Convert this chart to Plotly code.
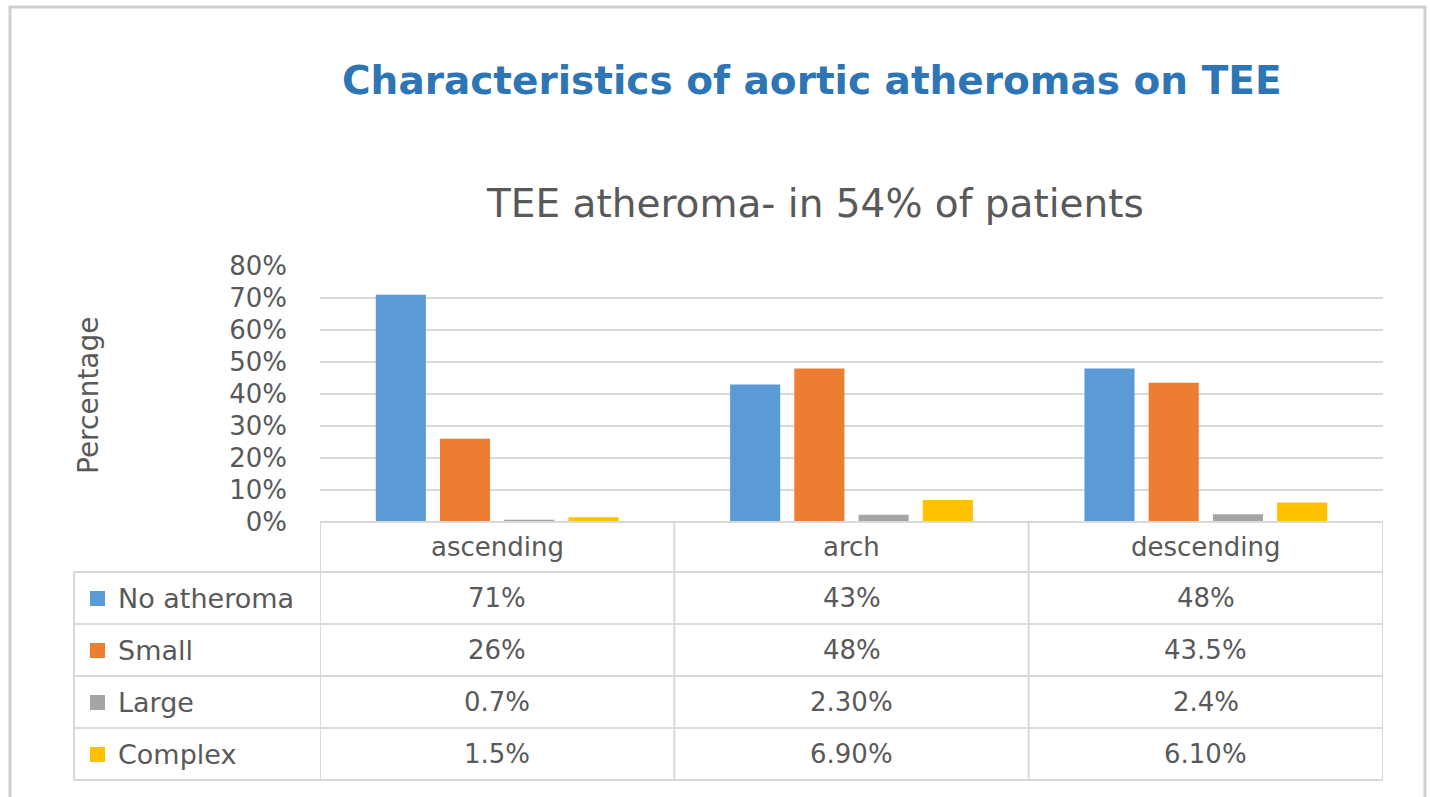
import plotly.graph_objects as go

categories = ["ascending", "arch", "descending"]
series_names = ["No atheroma", "Small", "Large", "Complex"]
no_atheroma = [0.71, 0.43, 0.48]
small = [0.26, 0.48, 0.435]
large = [0.007, 0.023, 0.024]
complex_ = [0.015, 0.069, 0.061]
table_labels = [
    ["71%", "43%", "48%"],
    ["26%", "48%", "43.5%"],
    ["0.7%", "2.30%", "2.4%"],
    ["1.5%", "6.90%", "6.10%"],
]
colors = ["#5B9BD5", "#ED7D31", "#A5A5A5", "#FFC000"]
values = [no_atheroma, small, large, complex_]

W, H = 1430, 797
L, R, T, B = 320, 1383, 266, 522  # plot area in pixels
pw, ph = R - L, B - T

def px(x):
    return (x - L) / pw

def py(y):
    return (B - y) / ph

fig = go.Figure()
for name, vals, c in zip(series_names, values, colors):
    fig.add_trace(go.Bar(x=categories, y=vals, name=name, marker_color=c,
                         marker_line_width=0, showlegend=False))

grey = "#595959"
line_c = "#D9D9D9"
font = "DejaVu Sans"
shapes = []
annotations = []

# outer slide border
shapes.append(dict(type="rect", xref="paper", yref="paper", x0=px(10), x1=px(1425),
                   y0=py(805), y1=py(7), line=dict(color="#D0D0D0", width=3)))

# table geometry
row_edges = [522, 572, 624, 676, 728, 780]
label_left = 74
for i, ye in enumerate(row_edges):
    x0 = L if i == 0 else label_left
    shapes.append(dict(type="line", xref="paper", yref="paper", x0=px(x0), x1=px(R),
                       y0=py(ye), y1=py(ye), line=dict(color=line_c, width=2)))
for k in range(len(categories) + 1):
    shapes.append(dict(type="line", xref="x", yref="paper", x0=k - 0.5, x1=k - 0.5,
                       y0=py(row_edges[0]), y1=py(row_edges[-1]),
                       line=dict(color=line_c, width=2)))
shapes.append(dict(type="line", xref="paper", yref="paper", x0=px(label_left), x1=px(label_left),
                   y0=py(row_edges[1]), y1=py(row_edges[-1]), line=dict(color=line_c, width=2)))

tfont = dict(size=26, color=grey, family=font)
for cat in categories:
    annotations.append(dict(x=cat, xref="x", y=py((row_edges[0] + row_edges[1]) / 2), yref="paper",
                            text=cat, showarrow=False, xanchor="center", yanchor="middle", font=tfont))
for r, (name, c) in enumerate(zip(series_names, colors)):
    yc = (row_edges[r + 1] + row_edges[r + 2]) / 2
    shapes.append(dict(type="rect", xref="paper", yref="paper", x0=px(90), x1=px(105),
                       y0=py(yc + 8), y1=py(yc - 7), fillcolor=c, line=dict(width=0)))
    annotations.append(dict(x=px(116), xref="paper", y=py(yc), yref="paper", text=name,
                            xanchor="left", yanchor="middle", showarrow=False,
                            font=dict(size=27, color=grey, family=font)))
    for j, cat in enumerate(categories):
        annotations.append(dict(x=cat, xref="x", y=py(yc), yref="paper", text=table_labels[r][j],
                                showarrow=False, xanchor="center", yanchor="middle", font=tfont))

annotations.append(dict(x=px(812), y=py(80), xref="paper", yref="paper", xanchor="center",
                        yanchor="middle",
                        text="<b>Characteristics of aortic atheromas on TEE</b>", showarrow=False,
                        font=dict(size=39, color="#2E75B6", family=font)))
annotations.append(dict(x=px(815), y=py(203), xref="paper", yref="paper", xanchor="center",
                        yanchor="middle",
                        text="TEE atheroma- in 54% of patients", showarrow=False,
                        font=dict(size=39, color=grey, family=font)))
annotations.append(dict(x=px(88), y=py(395), xref="paper", yref="paper", text="Percentage",
                        xanchor="center", yanchor="middle",
                        textangle=-90, showarrow=False, font=dict(size=28, color=grey, family=font)))

fig.update_layout(
    width=W, height=H,
    margin=dict(l=L, r=W - R, t=T, b=H - B, pad=0),
    paper_bgcolor="white", plot_bgcolor="white",
    barmode="group", bargap=0.275, bargroupgap=0.22,
    shapes=shapes, annotations=annotations,
    xaxis=dict(range=[-0.5, 2.5], showticklabels=False, showgrid=False, zeroline=False,
               showline=False, fixedrange=True),
    yaxis=dict(range=[0, 0.8], tickformat=".0%", dtick=0.1, showgrid=True, gridcolor=line_c,
               gridwidth=2, zeroline=False, showline=False, ticks="",
               tickfont=dict(size=26, color=grey, family=font), ticklabelstandoff=32),
)

fig.write_html("out.html", config={"displayModeBar": False},
               post_script="document.body.style.margin='0px';")
